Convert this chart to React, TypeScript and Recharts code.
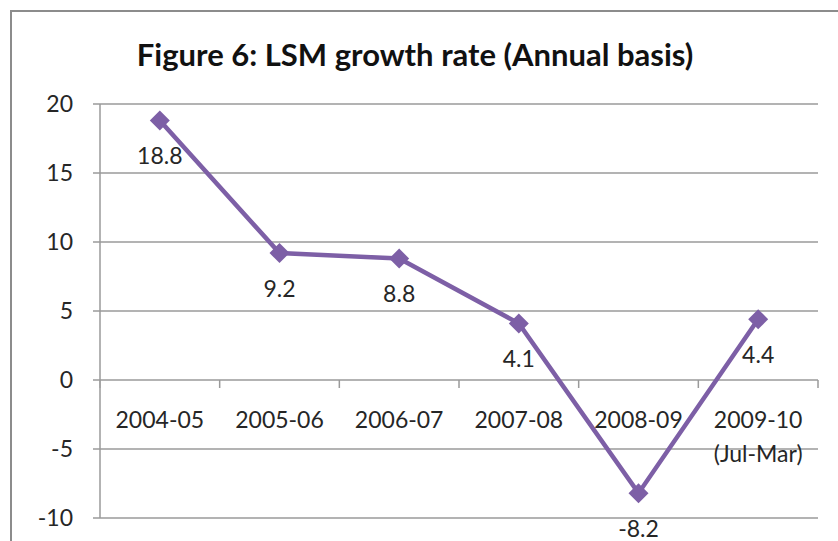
import React from 'react';
import { LineChart, Line, XAxis, YAxis, CartesianGrid, LabelList } from 'recharts';

// values
const categories = ['2004-05', '2005-06', '2006-07', '2007-08', '2008-09', '2009-10\n(Jul-Mar)'];
const growthRate = [18.8, 9.2, 8.8, 4.1, -8.2, 4.4];
const yTicks = [-10, -5, 0, 5, 10, 15, 20];

const data = categories.map((c, i) => ({ category: c, value: growthRate[i] }));

const W = 838;
const H = 541;
const MARGIN = { top: 104, right: 20, bottom: 0, left: 0 };
const Y_AXIS_W = 100;
const X_AXIS_H = 23;
const Y_MIN = -10;
const Y_MAX = 20;

const PURPLE = '#7D5FA6';
const GRID = '#9a9a9a';
const TEXT = '#262626';
const FONT = 'Lato, "Open Sans", sans-serif';

const plotLeft = MARGIN.left + Y_AXIS_W;
const plotWidth = W - plotLeft - MARGIN.right;
const plotHeight = H - MARGIN.top - MARGIN.bottom - X_AXIS_H;
// y position of the zero line, where the category axis sits in the original
const zeroY = MARGIN.top + (plotHeight * (Y_MAX - 0)) / (Y_MAX - Y_MIN);
const band = plotWidth / categories.length;

const CategoryTick = (props: any) => {
    const { x, payload, index } = props;
    const lines = String(payload.value).split('\n');
    return (
        <g>
            {index === 0 && <line x1={x - band / 2} x2={x - band / 2} y1={zeroY} y2={zeroY + 8} stroke={GRID} />}
            <line x1={x + band / 2} x2={x + band / 2} y1={zeroY} y2={zeroY + 8} stroke={GRID} strokeWidth={1.5} />
            <text x={x} y={zeroY + 48} textAnchor="middle" fill={TEXT} fontSize={23} fontFamily={FONT}>
                {lines.map((l, i) => (
                    <tspan key={i} x={x} dy={i === 0 ? 0 : 34}>{l}</tspan>
                ))}
            </text>
        </g>
    );
};

const Diamond = (props: any) => {
    const { cx, cy } = props;
    if (cx == null || cy == null) return null;
    const r = 10;
    return <polygon points={`${cx},${cy - r} ${cx + r},${cy} ${cx},${cy + r} ${cx - r},${cy}`} fill={PURPLE} />;
};

const ValueLabel = (props: any) => {
    const { x, y, value } = props;
    return (
        <text x={x} y={y + 38} textAnchor="middle" dominantBaseline="middle" fill={TEXT} fontSize={23} fontFamily={FONT}>
            {value}
        </text>
    );
};

export default function App() {
    return (
        <div style={{ position: 'absolute', left: 0, top: 0, width: W, height: H, overflow: 'hidden', background: '#fff' }}>
            <div style={{ position: 'absolute', left: 10, top: 10, width: 900, height: 600, border: '2px solid #8c8c8c' }} />
            <div style={{ position: 'absolute', left: 0, top: 35, width: W - 8, textAlign: 'center', fontFamily: FONT, fontWeight: 700, fontSize: 31, color: '#111' }}>
                Figure 6: LSM growth rate (Annual basis)
            </div>
            <div style={{ position: 'absolute', left: 0, top: 0 }}>
                <LineChart width={W} height={H} data={data} margin={MARGIN}>
                    <CartesianGrid vertical={false} stroke={GRID} strokeWidth={1.5} />
                    <XAxis
                        dataKey="category"
                        height={X_AXIS_H}
                        axisLine={false}
                        tickLine={false}
                        interval={0}
                        padding={{ left: band / 2, right: band / 2 }}
                        tick={<CategoryTick />}
                    />
                    <YAxis
                        width={Y_AXIS_W}
                        domain={[Y_MIN, Y_MAX]}
                        ticks={yTicks}
                        interval={0}
                        axisLine={{ stroke: GRID, strokeWidth: 1.5 }}
                        tickLine={{ stroke: GRID, strokeWidth: 1.5 }}
                        tickSize={7}
                        tick={{ fill: TEXT, fontSize: 23, fontFamily: FONT, dx: -18 }}
                    />
                    <Line
                        type="linear"
                        dataKey="value"
                        stroke={PURPLE}
                        strokeWidth={4.5}
                        dot={<Diamond />}
                        activeDot={false}
                        isAnimationActive={false}
                    >
                        <LabelList dataKey="value" content={<ValueLabel />} />
                    </Line>
                </LineChart>
            </div>
        </div>
    );
}
